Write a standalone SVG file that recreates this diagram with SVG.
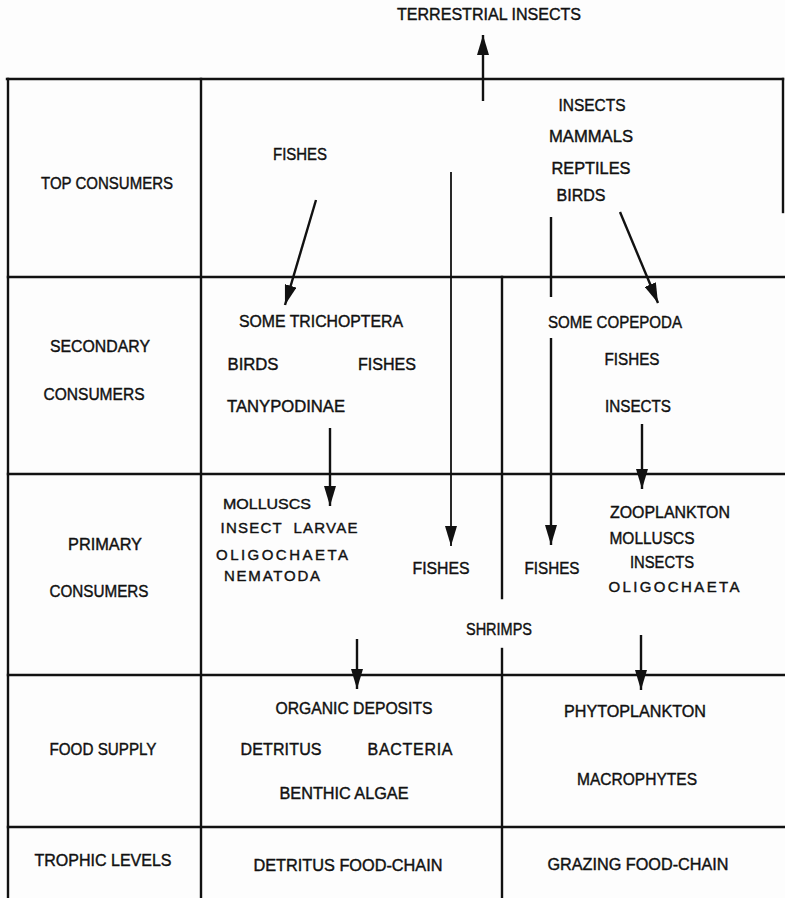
<svg xmlns="http://www.w3.org/2000/svg" width="785" height="898" viewBox="0 0 785 898">
<style>
text{font-family:"Liberation Sans",Arial,sans-serif;font-size:16px;fill:#111;text-anchor:middle;stroke:#111;stroke-width:0.4}
.grid line{stroke:#111;stroke-width:2.4;stroke-linecap:square}
.conn line{stroke:#111;stroke-width:2.4;fill:none}
.conn .thin{stroke-width:1.8}
</style>
<defs>
<marker id="ah" viewBox="0 0 20 12" refX="20" refY="6" markerWidth="20" markerHeight="12" markerUnits="userSpaceOnUse" orient="auto">
<path d="M0,0 L20,6 L0,12 z" fill="#111"/>
</marker>
</defs>
<rect width="785" height="898" fill="#fdfdfd"/>
<g class="grid" id="grid">
<line x1="7" y1="79" x2="783" y2="79"/>
<line x1="8" y1="79" x2="8" y2="898"/>
<line x1="201" y1="79" x2="201" y2="898"/>
<line x1="783" y1="79" x2="783" y2="212"/>
<line x1="8" y1="277" x2="785" y2="277"/>
<line x1="8" y1="474" x2="785" y2="474"/>
<line x1="8" y1="675" x2="785" y2="675"/>
<line x1="8" y1="827" x2="785" y2="827"/>
<line x1="502" y1="277" x2="502" y2="598"/>
<line x1="502" y1="649" x2="502" y2="898"/>
</g>
<g id="rows">
<g id="row-top"><text x="107" y="189" textLength="132" lengthAdjust="spacingAndGlyphs">TOP CONSUMERS</text></g>
<g id="row-secondary"><text x="100" y="352" textLength="100" lengthAdjust="spacingAndGlyphs">SECONDARY</text><text x="94" y="400" textLength="101" lengthAdjust="spacingAndGlyphs">CONSUMERS</text></g>
<g id="row-primary"><text x="105" y="550" textLength="74" lengthAdjust="spacingAndGlyphs">PRIMARY</text><text x="99" y="597" textLength="99" lengthAdjust="spacingAndGlyphs">CONSUMERS</text></g>
<g id="row-food"><text x="103" y="755" textLength="107" lengthAdjust="spacingAndGlyphs">FOOD SUPPLY</text></g>
<g id="row-trophic"><text x="103" y="866" textLength="137" lengthAdjust="spacingAndGlyphs">TROPHIC LEVELS</text></g>
</g>
<g id="terrestrial"><text x="489" y="20" textLength="184" lengthAdjust="spacingAndGlyphs">TERRESTRIAL INSECTS</text></g>
<g id="top-fishes"><text x="300" y="160" textLength="54" lengthAdjust="spacingAndGlyphs">FISHES</text></g>
<g id="top-right">
<text x="592" y="111" textLength="67" lengthAdjust="spacingAndGlyphs">INSECTS</text>
<text x="591" y="142" textLength="84" lengthAdjust="spacingAndGlyphs">MAMMALS</text>
<text x="591" y="174" textLength="79" lengthAdjust="spacingAndGlyphs">REPTILES</text>
<text x="581" y="201" textLength="49" lengthAdjust="spacingAndGlyphs">BIRDS</text>
</g>
<g id="sec-left">
<text x="321" y="327" textLength="164" lengthAdjust="spacingAndGlyphs">SOME TRICHOPTERA</text>
<text x="253" y="370" textLength="51" lengthAdjust="spacingAndGlyphs">BIRDS</text>
<text x="387" y="370" textLength="58" lengthAdjust="spacingAndGlyphs">FISHES</text>
<text x="286" y="412" textLength="118" lengthAdjust="spacingAndGlyphs">TANYPODINAE</text>
</g>
<g id="sec-right">
<text x="615" y="328" textLength="134" lengthAdjust="spacingAndGlyphs">SOME COPEPODA</text>
<text x="632" y="365" textLength="55" lengthAdjust="spacingAndGlyphs">FISHES</text>
<text x="638" y="412" textLength="66" lengthAdjust="spacingAndGlyphs">INSECTS</text>
</g>
<g id="prim-left">
<text x="267" y="509" textLength="88" lengthAdjust="spacingAndGlyphs" style="font-size:15px">MOLLUSCS</text>
<text x="289" y="533" textLength="137" xml:space="preserve" style="font-size:15px">INSECT  LARVAE</text>
<text x="282" y="560" textLength="132" style="font-size:15px">OLIGOCHAETA</text>
<text x="272" y="581" textLength="96" style="font-size:15px">NEMATODA</text>
</g>
<g id="prim-fishes-left"><text x="441" y="574" textLength="57" lengthAdjust="spacingAndGlyphs">FISHES</text></g>
<g id="prim-fishes-right"><text x="552" y="574" textLength="55" lengthAdjust="spacingAndGlyphs">FISHES</text></g>
<g id="prim-right">
<text x="670" y="518" textLength="120" lengthAdjust="spacingAndGlyphs">ZOOPLANKTON</text>
<text x="652" y="544" textLength="85" lengthAdjust="spacingAndGlyphs">MOLLUSCS</text>
<text x="662" y="568" textLength="64" lengthAdjust="spacingAndGlyphs">INSECTS</text>
<text x="674" y="592" textLength="131" style="font-size:15px">OLIGOCHAETA</text>
</g>
<g id="shrimps"><text x="499" y="635" textLength="66" lengthAdjust="spacingAndGlyphs">SHRIMPS</text></g>
<g id="food-left">
<text x="354" y="714" textLength="157" lengthAdjust="spacingAndGlyphs">ORGANIC DEPOSITS</text>
<text x="281" y="755" textLength="81">DETRITUS</text>
<text x="410" y="755" textLength="85">BACTERIA</text>
<text x="344" y="799" textLength="129" lengthAdjust="spacingAndGlyphs">BENTHIC ALGAE</text>
</g>
<g id="food-right">
<text x="635" y="717" textLength="142" lengthAdjust="spacingAndGlyphs">PHYTOPLANKTON</text>
<text x="637" y="785" textLength="120" lengthAdjust="spacingAndGlyphs">MACROPHYTES</text>
</g>
<g id="chain-detritus"><text x="348" y="871" textLength="189" lengthAdjust="spacingAndGlyphs">DETRITUS FOOD-CHAIN</text></g>
<g id="chain-grazing"><text x="638" y="870" textLength="181" lengthAdjust="spacingAndGlyphs">GRAZING FOOD-CHAIN</text></g>
<g class="conn" id="connectors">
<line x1="483" y1="101" x2="483" y2="35" marker-end="url(#ah)"/>
<line x1="316" y1="200" x2="285" y2="305" marker-end="url(#ah)"/>
<line x1="620" y1="212" x2="658" y2="303" marker-end="url(#ah)"/>
<line class="thin" x1="451" y1="172" x2="451" y2="546" marker-end="url(#ah)"/>
<line x1="551" y1="217" x2="551" y2="297"/>
<line x1="551" y1="338" x2="551" y2="545" marker-end="url(#ah)"/>
<line x1="330" y1="428" x2="330" y2="506" marker-end="url(#ah)"/>
<line x1="642" y1="424" x2="642" y2="489" marker-end="url(#ah)"/>
<line x1="357" y1="639" x2="357" y2="689" marker-end="url(#ah)"/>
<line x1="641" y1="635" x2="641" y2="690" marker-end="url(#ah)"/>
</g>
</svg>
